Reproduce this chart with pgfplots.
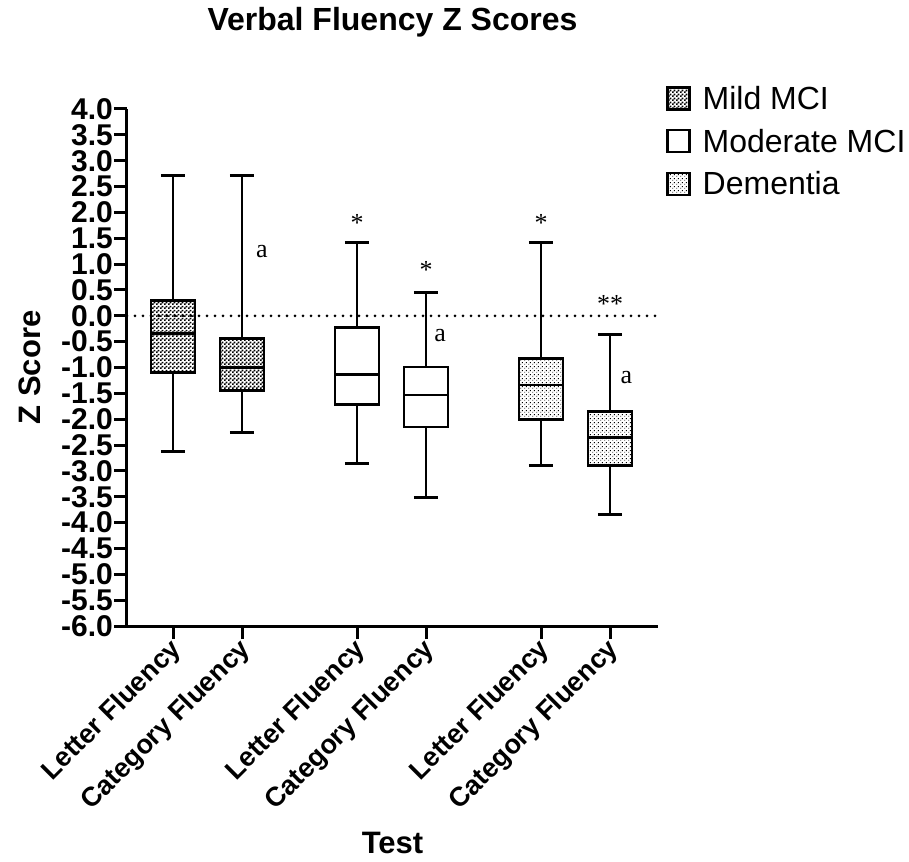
\documentclass[border=0pt]{standalone}
\usepackage{fontspec}
\setmainfont{Liberation Sans}
\newfontfamily\seriffont{Liberation Serif}
\usepackage{pgfplots}
\pgfplotsset{compat=1.18}
\usepgfplotslibrary{statistics}
\usetikzlibrary{patterns}
\pgfdeclarepatternformonly{sparsedots}{\pgfqpoint{0pt}{0pt}}{\pgfqpoint{4pt}{4pt}}{\pgfqpoint{4pt}{4pt}}{%
 \pgfpathrectangle{\pgfqpoint{0.4pt}{0.4pt}}{\pgfqpoint{1.1pt}{1.1pt}}%
 \pgfpathrectangle{\pgfqpoint{2.4pt}{2.4pt}}{\pgfqpoint{1.1pt}{1.1pt}}%
 \pgfusepath{fill}}
\pgfdeclarepatternformonly{checker}{\pgfqpoint{0pt}{0pt}}{\pgfqpoint{4pt}{4pt}}{\pgfqpoint{4pt}{4pt}}{%
 \pgfpathrectangle{\pgfqpoint{0pt}{0pt}}{\pgfqpoint{2pt}{2pt}}%
 \pgfpathrectangle{\pgfqpoint{2pt}{2pt}}{\pgfqpoint{2pt}{2pt}}%
 \pgfusepath{fill}}
\tikzset{bx/.style={black, line width=2.8pt, preaction={fill=white}}}
\newcommand{\ann}{\seriffont\fontsize{26}{26}\selectfont}
\begin{document}
\begin{tikzpicture}
\begin{axis}[
  at={(0,0)}, anchor=south west,
  scale only axis, width=531pt, height=517pt,
  xmin=0.3333, xmax=8.029, ymin=-6, ymax=4,
  clip=false,
  boxplot/draw direction=y,
  axis x line*=bottom, axis y line*=left,
  axis line style={line width=3pt},
  tick align=outside, major tick length=13pt,
  tick style={line width=3pt, black},
  /pgf/number format/assume math mode=true,
  ytick distance=0.5,
  yticklabel style={/pgf/number format/fixed, /pgf/number format/fixed zerofill, /pgf/number format/precision=1,
    font=\bfseries\fontsize{30}{30}\selectfont, inner sep=1pt},
  xtick={1,2,3.6667,4.6667,6.3333,7.3333},
  xticklabels={Letter Fluency, Category Fluency, Letter Fluency, Category Fluency, Letter Fluency, Category Fluency},
  xticklabel style={rotate=45, anchor=east, font=\bfseries\fontsize{27}{27}\selectfont, yshift=-8pt, xshift=2pt},
  xlabel={Test}, ylabel={Z Score},
  label style={font=\bfseries\fontsize{31}{31}\selectfont},
  xlabel style={at={(axis description cs:0.5,-0.42)}, anchor=center},
  ylabel style={at={(axis description cs:-0.1827,0.5)}, anchor=center},
  title={Verbal Fluency Z Scores},
  title style={font=\bfseries\fontsize{32}{32}\selectfont, at={(axis description cs:0.5,1.157)}, anchor=center},
  legend style={at={(axis description cs:1,1)}, anchor=north west, xshift=8pt, yshift=25pt,
    draw=none, fill=none, font=\fontsize{32}{32}\selectfont, row sep=14pt, inner sep=0pt,
    /tikz/every odd column/.append style={column sep=10pt}},
  legend cell align=left,
]
\addlegendimage{legend image code/.code={\draw[line width=2.5pt, pattern=checker] (0pt,-11pt) rectangle (22pt,11pt);}}
\addlegendentry{Mild MCI}
\addlegendimage{legend image code/.code={\draw[line width=2.5pt] (0pt,-11pt) rectangle (22pt,11pt);}}
\addlegendentry{Moderate MCI}
\addlegendimage{legend image code/.code={\draw[line width=2.5pt, pattern=sparsedots] (0pt,-11pt) rectangle (22pt,11pt);}}
\addlegendentry{Dementia}

\addplot[black, line width=3pt, line cap=round, dash pattern=on 0pt off 8pt, forget plot] coordinates {(0.3333,0) (8.029,0)};

% Mild MCI
\addplot[bx, pattern=checker, forget plot, boxplot prepared={draw position=1, lower whisker=-2.63, lower quartile=-1.10, median=-0.35, upper quartile=0.29, upper whisker=2.72, box extend=0.64, whisker extend=0.35}] coordinates {};
\addplot[bx, pattern=checker, forget plot, boxplot prepared={draw position=2, lower whisker=-2.26, lower quartile=-1.44, median=-1.00, upper quartile=-0.44, upper whisker=2.72, box extend=0.64, whisker extend=0.35}] coordinates {};
% Moderate MCI
\addplot[bx, forget plot, boxplot prepared={draw position=3.6667, lower whisker=-2.85, lower quartile=-1.71, median=-1.13, upper quartile=-0.22, upper whisker=1.42, box extend=0.64, whisker extend=0.35}] coordinates {};
\addplot[bx, forget plot, boxplot prepared={draw position=4.6667, lower whisker=-3.51, lower quartile=-2.15, median=-1.53, upper quartile=-0.99, upper whisker=0.45, box extend=0.64, whisker extend=0.35}] coordinates {};
% Dementia
\addplot[bx, pattern=sparsedots, forget plot, boxplot prepared={draw position=6.3333, lower whisker=-2.90, lower quartile=-2.00, median=-1.34, upper quartile=-0.83, upper whisker=1.42, box extend=0.64, whisker extend=0.35}] coordinates {};
\addplot[bx, pattern=sparsedots, forget plot, boxplot prepared={draw position=7.3333, lower whisker=-3.84, lower quartile=-2.89, median=-2.35, upper quartile=-1.85, upper whisker=-0.36, box extend=0.64, whisker extend=0.35}] coordinates {};

\node[font=\ann, anchor=base] at (axis cs:2.29,1.12) {a};
\node[font=\ann, anchor=base] at (axis cs:4.87,-0.49) {a};
\node[font=\ann, anchor=base] at (axis cs:7.57,-1.30) {a};
\node[font=\ann, anchor=base] at (axis cs:3.6667,1.64) {*};
\node[font=\ann, anchor=base] at (axis cs:4.6667,0.73) {*};
\node[font=\ann, anchor=base] at (axis cs:6.3333,1.64) {*};
\node[font=\ann, anchor=base] at (axis cs:7.3333,0.07) {**};
\end{axis}
\pgfresetboundingbox
\path[use as bounding box] (-127pt,-235pt) rectangle (782pt,626pt);
\end{tikzpicture}
\end{document}
